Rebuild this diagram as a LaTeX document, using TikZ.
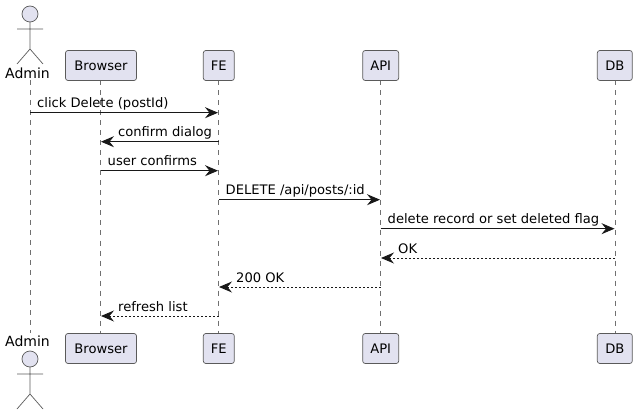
\documentclass[tikz,border=0pt]{standalone}
\usepackage{fontspec}
\setmainfont{DejaVu Sans}
\usetikzlibrary{arrows.meta}
\definecolor{pfill}{HTML}{E2E2F0}
\definecolor{pline}{HTML}{181818}
\definecolor{soft}{HTML}{5A5A5A}
\definecolor{lifeg}{HTML}{707070}
\tikzset{
  x=1pt,y=-1pt,
  part/.style={draw=soft,fill=pfill,line width=.7pt,rounded corners=2.5pt,minimum height=30pt,inner sep=0pt,font=\fontsize{13.1}{15}\selectfont,text=black},
  lifeline/.style={draw=lifeg,line width=.6pt,dash pattern=on 5pt off 5pt},
  actorline/.style={draw=soft,line width=.7pt,fill=none},
  msg/.style={draw=pline,line width=.9pt,-{Stealth[length=13pt,width=11pt,inset=4.5pt]},shorten >=.5pt},
  reply/.style={msg,dash pattern=on 2pt off 2pt},
  lbl/.style={inner sep=0pt,anchor=base west,font=\fontsize{13.1}{15}\selectfont,text=black},
  actorlabel/.style={inner sep=0pt,anchor=center,font=\fontsize{14}{16}\selectfont,text=black},
}
\newcommand{\stickman}[2]{%
  \draw[actorline,fill=pfill] (#1,#2) circle[radius=8];
  \draw[actorline] (#1,#2+8) -- (#1,#2+35) (#1-13,#2+15) -- (#1+13,#2+15)
    (#1-13,#2+50) -- (#1,#2+35) -- (#1+13,#2+50);}
\begin{document}
\begin{tikzpicture}
\useasboundingbox (0,0) rectangle (637,414);
% lifelines
\coordinate (at) at (30,80); \coordinate (ab) at (30,333);
\coordinate (bt) at (100.5,80.5); \coordinate (bb) at (100.5,333.5);
\coordinate (ft) at (218.5,80.5); \coordinate (fb) at (218.5,333.5);
\coordinate (it) at (380.5,80.5); \coordinate (ib) at (380.5,333.5);
\coordinate (dt) at (615,80.5); \coordinate (db) at (615,333.5);
\foreach \t/\b in {at/ab,bt/bb,ft/fb,it/ib,dt/db} \draw[lifeline] (\t) -- (\b);
% participants
\node[part,minimum width=71pt] (browserT) at (101,65.5) {Browser};
\node[part,minimum width=31pt] (feT) at (218.8,65.5) {FE};
\node[part,minimum width=36pt] (apiT) at (380.7,65.5) {API};
\node[part,minimum width=35pt] (dbT) at (614.8,65.5) {DB};
\node[part,minimum width=71pt] (browserB) at (101,348.5) {Browser};
\node[part,minimum width=31pt] (feB) at (218.8,348.5) {FE};
\node[part,minimum width=36pt] (apiB) at (380.7,348.5) {API};
\node[part,minimum width=35pt] (dbB) at (614.8,348.5) {DB};
% actors
\stickman{30}{14}
\node[actorlabel] (adminT) at (27.5,73) {Admin};
\node[actorlabel] (adminB) at (27.5,341) {Admin};
\stickman{30}{359}
% message end points
\foreach \n/\x in {a/30,b/100.5,f/218.5,i/380.5,d/615}
  \foreach \k/\y in {1/112.7,2/141.7,3/170.7,4/199.7,5/228.7,6/258,7/287,8/316}
    \coordinate (\n\k) at (\x,\y);
% messages
\draw[msg] (a1) -- (f1);
\node[lbl] (m1) at (37,108) {click Delete (postId)};
\draw[msg] (f2) -- (b2);
\node[lbl] (m2) at (118,137) {confirm dialog};
\draw[msg] (b3) -- (f3);
\node[lbl] (m3) at (107.5,166) {user confirms};
\draw[msg] (f4) -- (i4);
\node[lbl] (m4) at (225.5,195) {DELETE /api/posts/:id};
\draw[msg] (i5) -- (d5);
\node[lbl] (m5) at (387.5,224) {delete record or set deleted flag};
\draw[reply] (d6) -- (i6);
\node[lbl] (m6) at (398,253) {OK};
\draw[reply] (i7) -- (f7);
\node[lbl] (m7) at (236,282) {200 OK};
\draw[reply] (f8) -- (b8);
\node[lbl] (m8) at (118,311) {refresh list};
\end{tikzpicture}
\end{document}
